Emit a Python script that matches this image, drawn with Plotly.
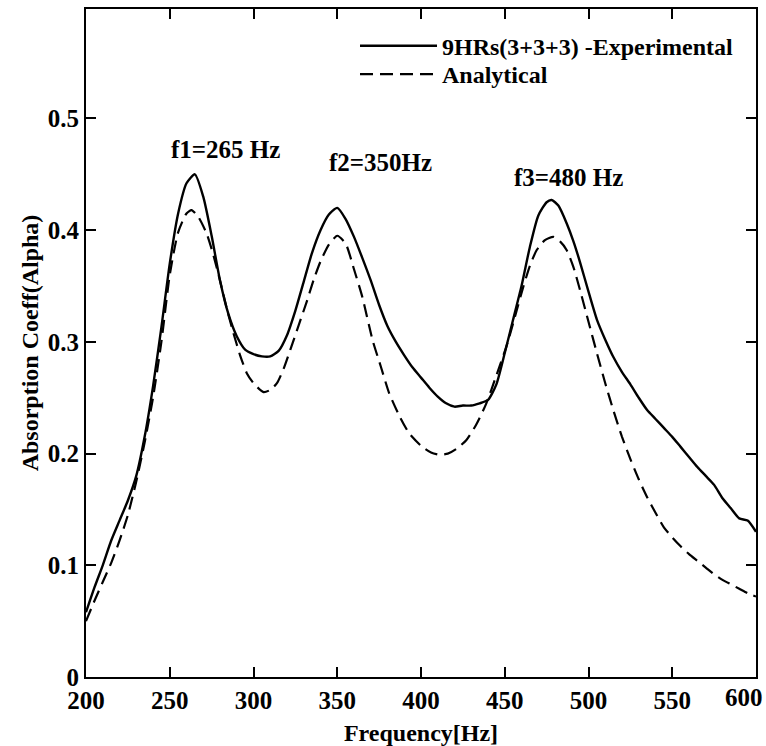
import plotly.graph_objects as go

freq_exp = [200,205,210,215,220,225,230,235,240,245,250,255,260,265,270,275,280,285,290,295,300,305,310,315,320,325,330,335,340,345,350,355,360,365,370,375,380,385,390,395,400,405,410,415,420,425,430,435,440,445,450,455,460,465,470,475,478,482,487,491,495,500,505,510,515,520,525,530,535,540,545,550,555,560,565,570,575,580,585,590,595,600]
alpha_exp = [0.058,0.08,0.10,0.122,0.14,0.158,0.18,0.215,0.26,0.313,0.37,0.415,0.442,0.45,0.43,0.395,0.355,0.325,0.305,0.293,0.289,0.287,0.287,0.292,0.306,0.328,0.354,0.38,0.40,0.414,0.42,0.41,0.394,0.375,0.355,0.333,0.314,0.30,0.288,0.277,0.268,0.259,0.251,0.245,0.242,0.243,0.243,0.245,0.248,0.262,0.29,0.32,0.35,0.385,0.413,0.425,0.427,0.422,0.406,0.39,0.371,0.345,0.32,0.302,0.286,0.273,0.262,0.25,0.239,0.231,0.223,0.215,0.206,0.197,0.188,0.18,0.172,0.16,0.151,0.142,0.14,0.13]

freq_ana = [200,205,210,215,220,225,230,235,240,245,250,255,260,263,267,272,276,280,284,288,292,296,300,306,310,314,318,322,327,332,336,340,345,350,355,360,365,371,376,381,387,393,400,406,411,416,421,427,433,439,445,451,456,461,465,469,474,479,483,487,491,495,500,505,510,515,520,525,530,535,540,545,550,555,560,565,570,575,580,585,590,595,600]
alpha_ana = [0.05,0.068,0.085,0.102,0.122,0.145,0.175,0.21,0.25,0.30,0.36,0.398,0.415,0.418,0.412,0.397,0.378,0.355,0.33,0.308,0.288,0.272,0.263,0.255,0.257,0.263,0.276,0.293,0.315,0.337,0.356,0.372,0.387,0.395,0.388,0.365,0.34,0.302,0.278,0.254,0.234,0.218,0.207,0.201,0.199,0.20,0.204,0.212,0.226,0.245,0.27,0.296,0.322,0.349,0.368,0.382,0.391,0.394,0.39,0.382,0.367,0.346,0.318,0.29,0.263,0.238,0.215,0.195,0.177,0.161,0.147,0.134,0.125,0.117,0.11,0.104,0.098,0.092,0.087,0.083,0.079,0.075,0.072]

x_ticks = [200, 250, 300, 350, 400, 450, 500, 550, 600]
x_tick_labels = ["200", "250", "300", "350", "400", "450", "500", "550", ""]
last_x_label = "600"
y_ticks = [0, 0.1, 0.2, 0.3, 0.4, 0.5]
y_tick_labels = ["0", "0.1", "0.2", "0.3", "0.4", "0.5"]

peak_labels = ["f1=265 Hz", "f2=350Hz", "f3=480 Hz"]
peak_freq = [283, 376, 488]
peak_y = [0.472, 0.461, 0.447]

SERIF = "Liberation Serif"
FS_TICK = 25
FS_ANN = 25
FS_LEG = 24
FS_TITLE = 24

fig = go.Figure()
fig.add_trace(go.Scatter(x=freq_exp, y=alpha_exp, mode="lines", name="9HRs(3+3+3) -Experimental",
                         legend="legend",
                         line=dict(color="black", width=2.4, shape="spline", smoothing=0.6)))
fig.add_trace(go.Scatter(x=freq_ana, y=alpha_ana, mode="lines", name="Analytical",
                         legend="legend2",
                         line=dict(color="black", width=2.2, dash="13px,7px", shape="spline", smoothing=0.6)))

for t, fx, fy in zip(peak_labels, peak_freq, peak_y):
    fig.add_annotation(x=fx, y=fy, text=t, showarrow=False, xanchor="center", yanchor="middle",
                       font=dict(family=SERIF, size=FS_ANN, color="black", weight="bold"))

fig.add_annotation(xref="paper", yref="paper", x=0.982, y=-0.0314, text=last_x_label, showarrow=False,
                   xanchor="center", yanchor="middle",
                   font=dict(family=SERIF, size=FS_TICK, color="black", weight="bold"))

axis_common = dict(showline=True, linecolor="black", linewidth=2, mirror="ticks",
                   ticks="inside", ticklen=10, tickwidth=1.5, tickcolor="black",
                   showgrid=False, zeroline=False, automargin=False,
                   tickfont=dict(family=SERIF, size=FS_TICK, color="black", weight="bold"))

fig.update_xaxes(range=[200, 600], tickvals=x_ticks, ticktext=x_tick_labels,
                 title=dict(text="Frequency[Hz]", font=dict(family=SERIF, size=FS_TITLE, color="black", weight="bold"), standoff=12),
                 **axis_common)
fig.update_yaxes(range=[0, 0.598], tickvals=y_ticks, ticktext=y_tick_labels,
                 title=dict(text="Absorption Coeff(Alpha)", font=dict(family=SERIF, size=FS_TITLE, color="black", weight="bold"), standoff=2),
                 **axis_common)

legend_style = dict(xanchor="left", yanchor="top", bgcolor="rgba(0,0,0,0)",
                    font=dict(family=SERIF, size=FS_LEG, color="black", weight="bold"),
                    itemwidth=77, tracegroupgap=0)

fig.update_layout(
    width=766, height=746,
    margin=dict(l=86, r=10, t=9, b=69),
    plot_bgcolor="white", paper_bgcolor="white",
    showlegend=True,
    legend=dict(x=0.4015, y=0.978, **legend_style),
    legend2=dict(x=0.4015, y=0.9356, **legend_style),
)

fig.write_html("out.html", config={"displayModeBar": False},
               post_script="document.body.style.margin='0px';")
